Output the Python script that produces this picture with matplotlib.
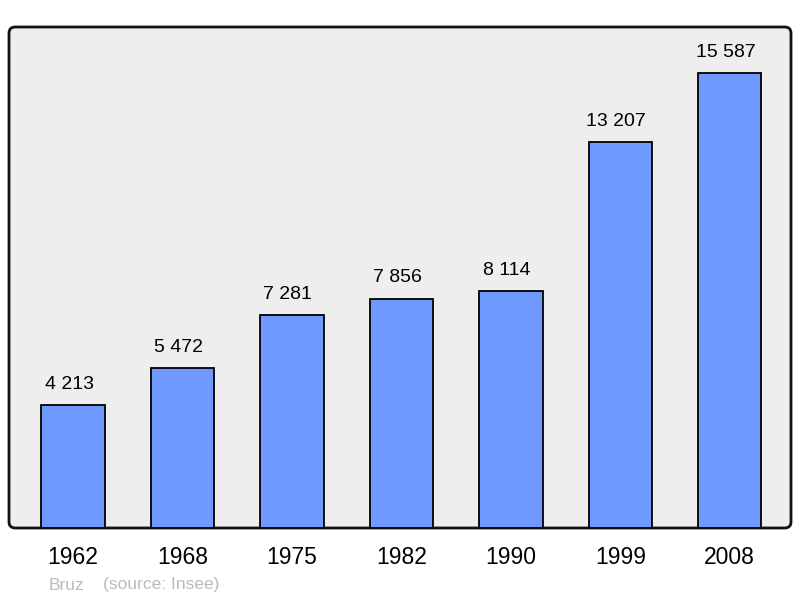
import matplotlib.pyplot as plt
from matplotlib.patches import FancyBboxPatch

years = ['1962', '1968', '1975', '1982', '1990', '1999', '2008']
population = [4213, 5472, 7281, 7856, 8114, 13207, 15587]
value_labels = ['4 213', '5 472', '7 281', '7 856', '8 114', '13 207', '15 587']

plt.rcParams['font.family'] = ['Liberation Sans', 'DejaVu Sans']

fig = plt.figure(figsize=(8.0, 5.98), dpi=100)
# axes box in pixels: x 9..791, y 27..528
ax = fig.add_axes([9 / 800, (598 - 528) / 598, 782 / 800, 501 / 598])
ax.set_facecolor('none')

xs = list(range(len(years)))
ax.bar(xs, population, width=0.58, color='#7099ff', edgecolor='black',
       linewidth=1.3, zorder=2)

for x, v, lab in zip(xs, population, value_labels):
    ax.annotate(lab, (x, v), xytext=(-4, 21), textcoords='offset pixels',
                ha='center', va='center', fontsize=14)

ax.set_xlim(-0.585, 6.56)
ax.set_ylim(0, 17163)
ax.set_xticks(xs)
ax.set_xticklabels(years, fontsize=16.5)
ax.tick_params(axis='x', length=0, pad=13)
ax.set_yticks([])
for s in ax.spines.values():
    s.set_visible(False)

frame = FancyBboxPatch((0, 0), 1, 1, boxstyle='round,pad=0,rounding_size=0.008',
                       transform=ax.transAxes, facecolor='#eeeeee',
                       edgecolor='#111111', linewidth=2, zorder=0,
                       mutation_aspect=782 / 501, clip_on=False)
ax.add_patch(frame)

fig.text(49 / 800, 1 - 585 / 598, 'Bruz', color='#bbbbbb', fontsize=12.5,
         va='center', ha='left')
fig.text(103 / 800, 1 - 585 / 598, '(source: Insee)', color='#bbbbbb',
         fontsize=12.5, va='center', ha='left')

fig.savefig('out.png', dpi=100, facecolor='white')
